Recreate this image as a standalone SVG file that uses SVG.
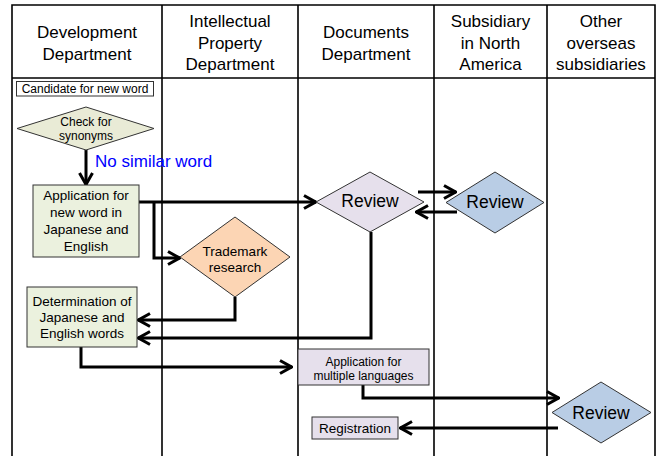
<svg xmlns="http://www.w3.org/2000/svg" width="659" height="456" viewBox="0 0 659 456">
<style>
text{font-family:"Liberation Sans",Arial,sans-serif;fill:#000;text-anchor:middle}
.hd{font-size:17px}
.t13{font-size:13.5px}
.t11{font-size:12px}
.t17{font-size:17.5px}
.lane{stroke:#000;stroke-width:1.6;fill:none}
.box{stroke:#333;stroke-width:1}
.green{fill:#ebf1de}
.lav{fill:#e6e0ec}
.blue{fill:#b9cde5}
.orange{fill:#fcd5b4}
.conn path{fill:none;stroke:#000;stroke-width:3;marker-end:url(#arr)}
</style>
<defs>
<marker id="arr" markerUnits="userSpaceOnUse" viewBox="0 0 14 16" refX="13" refY="8" markerWidth="14" markerHeight="16" orient="auto">
<path d="M1,1.5 L12.5,8 L1,14.5" fill="none" stroke="#000" stroke-width="3"/>
</marker>
</defs>
<rect width="659" height="456" fill="#fff"/>
<g id="lanes">
<path class="lane" d="M12,456 V5 H655 V456 M12,78 H655 M162,5 V456 M298,5 V456 M434,5 V456 M547,5 V456"/>
<text class="hd" x="87" y="38">Development</text>
<text class="hd" x="87" y="60">Department</text>
<text class="hd" x="230" y="27">Intellectual</text>
<text class="hd" x="230" y="48.5">Property</text>
<text class="hd" x="230" y="70">Department</text>
<text class="hd" x="366" y="38">Documents</text>
<text class="hd" x="366" y="60">Department</text>
<text class="hd" x="490.5" y="27">Subsidiary</text>
<text class="hd" x="490.5" y="48.5">in North</text>
<text class="hd" x="490.5" y="70">America</text>
<text class="hd" x="601" y="27">Other</text>
<text class="hd" x="601" y="48.5">overseas</text>
<text class="hd" x="601" y="70">subsidiaries</text>
</g>
<g class="conn" id="connectors">
<path d="M86,150 V185"/>
<path d="M139,202 H316"/>
<path d="M154,202 V258 H180"/>
<path d="M235,297 V320 H138"/>
<path d="M371,232 V338 H138"/>
<path d="M418,192 H456"/>
<path d="M457,212 H416"/>
<path d="M81,347 V367 H292"/>
<path d="M363,385 V398 H559"/>
<path d="M558,428 H400"/>
<text x="95" y="167" style="font-size:17px;fill:#0000ff;text-anchor:start">No similar word</text>
</g>
<g id="candidate">
<rect x="16.5" y="81.5" width="137" height="14.5" fill="#fff" class="box"/>
<text class="t11" x="85" y="93">Candidate for new word</text>
</g>
<g id="check">
<polygon points="86,107 154,128.5 86,150 17,128.5" fill="#e9ebd6" class="box"/>
<text class="t11" x="86" y="125.5">Check for</text>
<text class="t11" x="86" y="139.5">synonyms</text>
</g>
<g id="application">
<rect x="33" y="185" width="106" height="72" class="box green"/>
<text class="t13" x="86" y="200">Application for</text>
<text class="t13" x="86" y="217">new word in</text>
<text class="t13" x="86" y="234">Japanese and</text>
<text class="t13" x="86" y="250.5">English</text>
</g>
<g id="trademark">
<polygon points="235,217 290,257 235,297 180,257" class="box orange"/>
<text class="t13" x="235" y="255.5">Trademark</text>
<text class="t13" x="235" y="271.5">research</text>
</g>
<g id="determination">
<rect x="27" y="287" width="110" height="60" class="box green"/>
<text class="t13" x="82" y="306">Determination of</text>
<text class="t13" x="82" y="322">Japanese and</text>
<text class="t13" x="82" y="338">English words</text>
</g>
<g id="review-docs">
<polygon points="370,172 424,202 370,232 316,202" class="box lav"/>
<text class="t17" x="370" y="207">Review</text>
</g>
<g id="review-na">
<polygon points="495,172 544,202.5 495,233 446,202.5" class="box blue"/>
<text class="t17" x="495" y="207.5">Review</text>
</g>
<g id="multi">
<rect x="298" y="349" width="131" height="36" class="box lav"/>
<text class="t11" x="363.5" y="365.5">Application for</text>
<text class="t11" x="363.5" y="379.5">multiple languages</text>
</g>
<g id="review-other">
<polygon points="601,382 651,412.5 601,443 552,412.5" class="box blue"/>
<text class="t17" x="601" y="419">Review</text>
</g>
<g id="registration">
<rect x="312" y="417" width="86" height="22" class="box lav"/>
<text class="t13" x="355" y="432.5">Registration</text>
</g>
</svg>
